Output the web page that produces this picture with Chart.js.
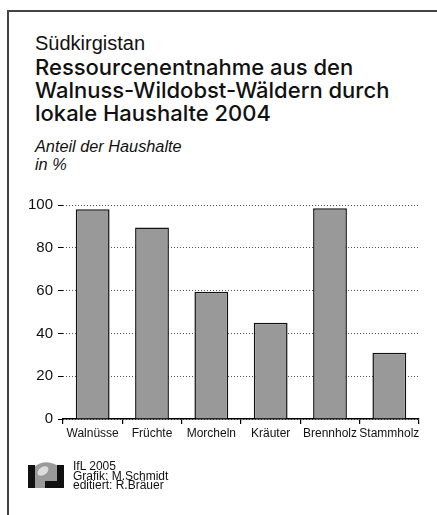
<!DOCTYPE html>
<html lang="de">
<head>
<meta charset="utf-8">
<title>Ressourcenentnahme Südkirgistan</title>
<script src="https://cdn.jsdelivr.net/npm/chart.js@4/dist/chart.umd.min.js"></script>
<style>
  html, body { margin:0; padding:0; background:#fff; }
  body { width:437px; height:515px; position:relative; overflow:hidden; font-family:"Liberation Sans", Arial, sans-serif; color:#111; }
  .frame { position:absolute; left:7px; top:10px; right:-4px; bottom:-4px; border-top:2px solid #444; border-left:2px solid #444; }
  .region { position:absolute; left:35px; top:32px; font-size:20px; }
  .title { position:absolute; left:35px; top:56px; font-family:Inter, "Liberation Sans", sans-serif; font-size:22px; font-weight:500; line-height:23px; }
  .sub { position:absolute; left:35px; top:137px; font-size:16.3px; font-style:italic; line-height:18px; }
  #chartWrap { position:absolute; left:0; top:185px; width:437px; height:275px; }
  #logo { position:absolute; left:27px; top:458px; }
  .credits { position:absolute; left:73px; top:462px; font-size:12px; line-height:9.5px; }
</style>
</head>
<body>
<div class="frame"></div>
<div class="region">Südkirgistan</div>
<div class="title">Ressourcenentnahme aus den<br>Walnuss-Wildobst-Wäldern durch<br>lokale Haushalte 2004</div>
<div class="sub">Anteil der Haushalte<br>in %</div>
<div id="chartWrap"><canvas id="resChart" width="437" height="275"></canvas></div>
<canvas id="logo" width="40" height="32"></canvas>
<div class="credits">IfL 2005<br>Grafik: M.Schmidt<br>editiert: R.Bräuer</div>

<script>
const categories = ["Walnüsse", "Früchte", "Morcheln", "Kräuter", "Brennholz", "Stammholz"];
const shares = [98, 89.5, 59.5, 45, 98.5, 31];
const yTicks = [0, 20, 40, 60, 80, 100];

// kleines IfL-Logo (nur Dekoration)
function drawLogo(){
  const c = document.getElementById("logo").getContext("2d");
  c.fillStyle = "#9a9a9a";
  c.beginPath();
  c.moveTo(7, 30);
  c.lineTo(7, 9);
  c.quadraticCurveTo(18, 0, 31, 8);
  c.lineTo(31, 23);
  c.lineTo(18, 23);
  c.lineTo(18, 30);
  c.closePath();
  c.fill();
  c.fillStyle = "#dcdcdc";
  c.beginPath();
  c.ellipse(16, 13, 6, 4, -0.6, 0, Math.PI * 2);
  c.fill();
  c.fillStyle = "#111";
  c.fillRect(1, 7, 7, 23);
  c.fillRect(30, 7, 7, 17);
  c.fillRect(18, 23, 19, 7);
}
drawLogo();

const ctx = document.getElementById("resChart").getContext("2d");
new Chart(ctx, {
  type: "bar",
  data: {
    labels: categories,
    datasets: [{
      data: shares,
      backgroundColor: "#999999",
      borderColor: "#111",
      borderWidth: 1.5,
      barPercentage: 0.57,
      categoryPercentage: 1
    }]
  },
  options: {
    responsive: false,
    animation: false,
    devicePixelRatio: 1,
    layout: { padding: { top: 20, right: 18, left: 0, bottom: 0 } },
    plugins: { legend: { display: false }, tooltip: { enabled: false } },
    scales: {
      x: {
        afterFit: (s) => { s.height = 41; },
        border: { display: true, color: "#000", width: 1.5 },
        grid: { drawOnChartArea: false, drawTicks: true, tickLength: 5, color: "#000", lineWidth: 1.2, offset: true },
        ticks: { color: "#111", font: { family: "Liberation Sans", size: 12 }, padding: 2, maxRotation: 0, autoSkip: false }
      },
      y: {
        min: 0,
        max: 100,
        afterFit: (s) => { s.width = 63; },
        afterBuildTicks: (s) => { s.ticks = yTicks.map(v => ({ value: v })); },
        border: { display: false, dash: [1, 2] },
        grid: { color: "#555", lineWidth: 1, tickBorderDash: [0, 0], tickColor: "#000", tickLength: 5, drawTicks: true },
        ticks: { color: "#111", font: { family: "Liberation Sans", size: 15 }, padding: 5 }
      }
    }
  }
});
</script>
</body>
</html>
